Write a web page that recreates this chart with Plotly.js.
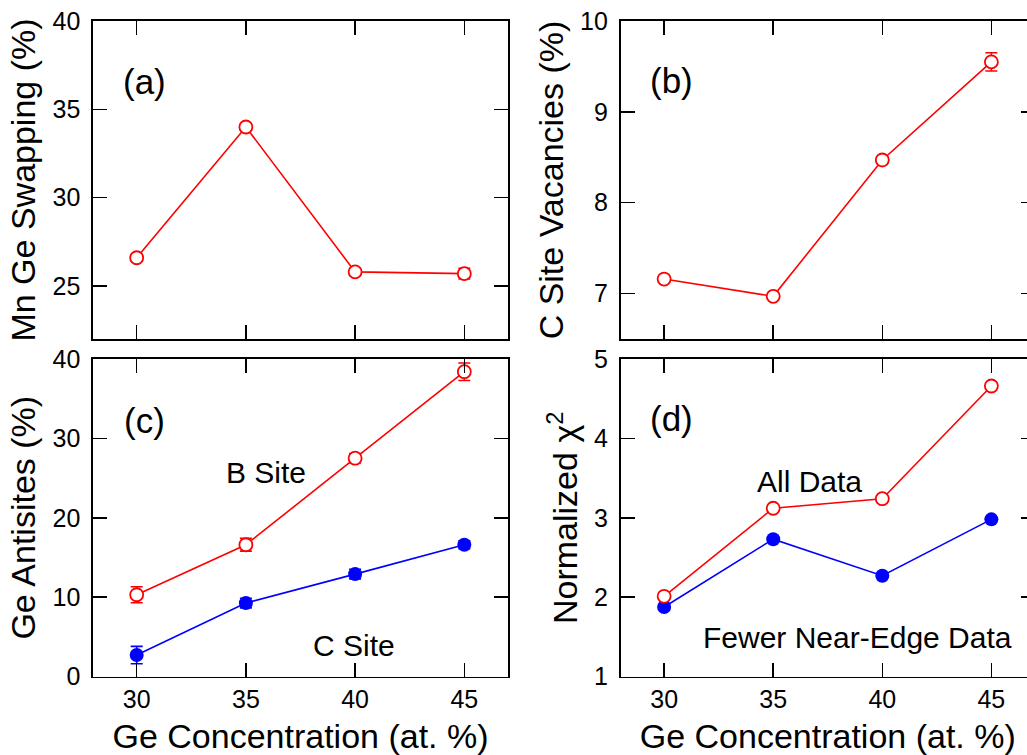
<!DOCTYPE html>
<html>
<head>
<meta charset="utf-8">
<script src="https://cdn.plot.ly/plotly-3.0.1.min.js"></script>
<style>
html, body { margin: 0; padding: 0; overflow: hidden; background: #fff; }
#chart { width: 1050px; height: 755px; }
</style>
</head>
<body>
<div id="chart"></div>
<script>
// Ge concentration (at. %)
const geConc = [30, 35, 40, 45];
const xTicks = [30, 35, 40, 45];

// (a) Mn Ge swapping (%)
const mnGeSwap = [26.6, 34.0, 25.8, 25.7];
const mnGeSwapErr = [0.2, 0.2, 0.2, 0.3];

// (b) C site vacancies (%)
const cVac = [7.16, 6.97, 8.47, 9.55];
const cVacErr = [0.03, 0.03, 0.03, 0.1];

// (c) Ge antisites (%)
const bSiteAnti = [10.3, 16.6, 27.5, 38.4];
const bSiteAntiErr = [1.0, 0.8, 0.6, 1.1];
const cSiteAnti = [2.7, 9.25, 12.9, 16.6];
const cSiteAntiErr = [1.1, 0.6, 0.6, 0.5];

// (d) Normalized chi^2
const chiAll = [2.01, 3.12, 3.24, 4.66];
const chiFewer = [1.875, 2.73, 2.27, 2.98];

const RED = '#ff0000', BLUE = '#0000ff';
const FONT = 'Liberation Sans, Arial, Helvetica, sans-serif';

function openRed(x, y, err, xa, ya) {
  const t = {
    x: x, y: y, xaxis: xa, yaxis: ya, type: 'scatter', mode: 'lines+markers',
    line: {color: RED, width: 1.6},
    marker: {symbol: 'circle', size: 13, color: 'rgba(255,255,255,1)', line: {color: RED, width: 1.8}},
    showlegend: false, hoverinfo: 'skip'
  };
  if (err) t.error_y = {type: 'data', array: err, visible: true, color: RED, thickness: 1.6, width: 6};
  return t;
}
function filledBlue(x, y, err, xa, ya) {
  const t = {
    x: x, y: y, xaxis: xa, yaxis: ya, type: 'scatter', mode: 'lines+markers',
    line: {color: BLUE, width: 1.6},
    marker: {symbol: 'circle', size: 14, color: BLUE},
    showlegend: false, hoverinfo: 'skip'
  };
  if (err) t.error_y = {type: 'data', array: err, visible: true, color: BLUE, thickness: 1.6, width: 6};
  return t;
}

const traces = [
  openRed(geConc, mnGeSwap, mnGeSwapErr, 'x', 'y'),
  openRed(geConc, cVac, cVacErr, 'x2', 'y2'),
  openRed(geConc, bSiteAnti, bSiteAntiErr, 'x3', 'y3'),
  filledBlue(geConc, cSiteAnti, cSiteAntiErr, 'x3', 'y3'),
  filledBlue(geConc, chiFewer, null, 'x4', 'y4'),
  openRed(geConc, chiAll, null, 'x4', 'y4')
];

const W = 1050, H = 755;
const colA = [93 / W, 508 / W], colB = [620.5 / W, 1035 / W];
const rowTop = [1 - 339 / H, 1 - 21 / H], rowBot = [1 - 676.5 / H, 1 - 359 / H];

function xAxis(domain, anchor, showLabels) {
  const a = {
    domain: domain, anchor: anchor, range: [28, 47],
    tickmode: 'array', tickvals: xTicks, ticktext: xTicks.map(String),
    ticks: 'inside', ticklen: 14, tickwidth: 1.5, tickcolor: '#000',
    showline: true, linecolor: '#000', linewidth: 1.6, mirror: 'ticks',
    showgrid: false, zeroline: false, showticklabels: showLabels,
    tickfont: {family: FONT, size: 25, color: '#000'},
    automargin: false, fixedrange: true
  };
  if (showLabels) a.title = {text: 'Ge Concentration (at. %)', font: {family: FONT, size: 34, color: '#000'}, standoff: 13};
  return a;
}
function yAxis(domain, anchor, range, dtick, title) {
  return {
    domain: domain, anchor: anchor, range: range, dtick: dtick, tick0: 0,
    ticks: 'inside', ticklen: 14, tickwidth: 1.5, tickcolor: '#000',
    showline: true, linecolor: '#000', linewidth: 1.6, mirror: 'ticks',
    showgrid: false, zeroline: false,
    tickfont: {family: FONT, size: 25, color: '#000'},
    ticklabelstandoff: 6,
    title: {text: title, font: {family: FONT, size: 34, color: '#000'}, standoff: 6},
    automargin: false, fixedrange: true
  };
}

function ann(xref, yref, x, y, text, size) {
  return {xref: xref, yref: yref, x: x, y: y, text: text, showarrow: false,
          xanchor: 'center', yanchor: 'middle',
          font: {family: FONT, size: size, color: '#000'}};
}

const layout = {
  width: W, height: H,
  margin: {l: 0, r: 0, t: 0, b: 0},
  paper_bgcolor: '#fff', plot_bgcolor: '#fff',
  font: {family: FONT, color: '#000'},
  showlegend: false,
  xaxis: xAxis(colA, 'y', false),
  yaxis: yAxis(rowTop, 'x', [22, 40], 5, 'Mn Ge Swapping (%)'),
  xaxis2: xAxis(colB, 'y2', false),
  yaxis2: yAxis(rowTop, 'x2', [6.5, 10], 1, 'C Site Vacancies (%)'),
  xaxis3: xAxis(colA, 'y3', true),
  yaxis3: yAxis(rowBot, 'x3', [0, 40], 10, 'Ge Antisites (%)'),
  xaxis4: xAxis(colB, 'y4', true),
  yaxis4: yAxis(rowBot, 'x4', [1, 5], 1, 'Normalized χ<sup>2</sup>'),
  annotations: [
    ann('x', 'y', 30.37, 36.6, '(a)', 35),
    ann('x2', 'y2', 30.35, 9.34, '(b)', 35),
    ann('x3', 'y3', 30.37, 32.3, '(c)', 35),
    ann('x4', 'y4', 30.35, 4.255, '(d)', 35),
    ann('x3', 'y3', 35.92, 25.75, 'B Site', 30),
    ann('x3', 'y3', 39.95, 3.93, 'C Site', 30),
    ann('x4', 'y4', 36.66, 3.46, 'All Data', 30),
    ann('x4', 'y4', 38.86, 1.49, 'Fewer Near-Edge Data', 30)
  ]
};

Plotly.newPlot('chart', traces, layout, {staticPlot: true, displayModeBar: false});
</script>
</body>
</html>
